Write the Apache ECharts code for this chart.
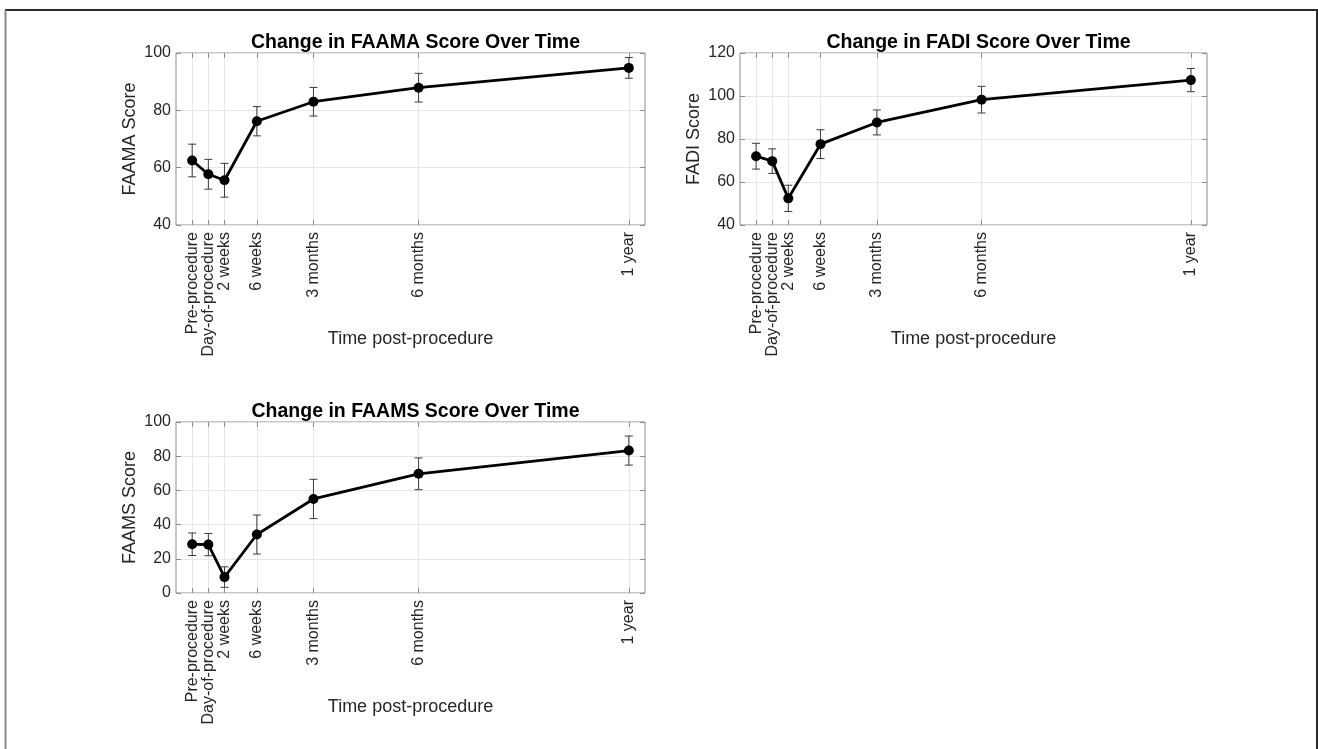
<!DOCTYPE html>
<html>
<head>
<meta charset="utf-8">
<script src="https://cdn.jsdelivr.net/npm/echarts@6/dist/echarts.min.js"></script>
<style>
  html, body { margin: 0; padding: 0; background: #fff; }
  #chart { width: 1318px; height: 749px; }
</style>
</head>
<body>
<div id="chart"></div>
<script>
// time in weeks relative to the procedure
const timeWeeks = [-2, 0, 2, 6, 13, 26, 52]
const timeLabels = ['Pre-procedure', 'Day-of-procedure', '2 weeks', '6 weeks', '3 months', '6 months', '1 year']

const faamaMean = [62.5, 57.7, 55.6, 76.2, 83.0, 87.9, 94.8]
const faamaSd = [5.7, 5.2, 5.9, 5.1, 5.0, 5.0, 3.6]
const fadiMean = [72.0, 69.7, 52.4, 77.6, 87.7, 98.3, 107.4]
const fadiSd = [6.0, 5.7, 6.1, 6.7, 5.8, 6.2, 5.4]
const faamsMean = [28.5, 28.3, 9.3, 34.2, 55.0, 69.7, 83.3]
const faamsSd = [6.6, 6.5, 6.0, 11.4, 11.5, 9.3, 8.5]

const FONT = '"Liberation Sans", Arial, Helvetica, sans-serif'
const TEXT = '#262626'
const BOX = '#8c8c8c'
const GRIDLINE = '#e6e6e6'

const panels = [
  { title: 'Change in FAAMA Score Over Time', yName: 'FAAMA Score', mean: faamaMean, sd: faamaSd,
    yMin: 40, yMax: 100, rect: { left: 176, top: 53, width: 469, height: 172 } },
  { title: 'Change in FADI Score Over Time', yName: 'FADI Score', mean: fadiMean, sd: fadiSd,
    yMin: 40, yMax: 120, rect: { left: 740, top: 53, width: 467, height: 172 } },
  { title: 'Change in FAAMS Score Over Time', yName: 'FAAMS Score', mean: faamsMean, sd: faamsSd,
    yMin: 0, yMax: 100, rect: { left: 176, top: 422, width: 469, height: 171 } },
]

const labelOf = (v) => {
  const i = timeWeeks.indexOf(v)
  return i >= 0 ? timeLabels[i] : ''
}

const grid = [], xAxis = [], yAxis = [], series = [], title = []

panels.forEach((p, k) => {
  grid.push({ ...p.rect, show: true, borderColor: BOX, borderWidth: 1, backgroundColor: '#fff' })
  title.push({
    text: p.title,
    left: p.rect.left + p.rect.width / 2, top: p.rect.top - 25, textAlign: 'center',
    textStyle: { fontFamily: FONT, fontSize: 19.5, fontWeight: 'bold', color: '#000' },
  })
  // bottom x axis with labels
  xAxis.push({
    gridIndex: k, type: 'value', min: -4, max: 54, position: 'bottom',
    name: 'Time post-procedure', nameLocation: 'middle', nameGap: 105, nameMoveOverlap: false,
    nameTextStyle: { fontFamily: FONT, fontSize: 18, color: TEXT },
    axisLine: { show: false, onZero: false },
    axisTick: { show: true, inside: true, length: 5, customValues: timeWeeks, lineStyle: { color: BOX } },
    axisLabel: { customValues: timeWeeks, rotate: 90, margin: 7, formatter: labelOf,
      fontFamily: FONT, fontSize: 16, color: TEXT },
    splitLine: { show: true, customValues: timeWeeks, lineStyle: { color: GRIDLINE, width: 1 } },
  })
  // top x axis: ticks only
  xAxis.push({
    gridIndex: k, type: 'value', min: -4, max: 54, position: 'top',
    axisLine: { show: false, onZero: false }, axisLabel: { show: false }, splitLine: { show: false },
    axisTick: { show: true, inside: true, length: 5, customValues: timeWeeks, lineStyle: { color: BOX } },
  })
  yAxis.push({
    gridIndex: k, type: 'value', min: p.yMin, max: p.yMax, interval: 20, position: 'left',
    name: p.yName, nameLocation: 'middle', nameGap: 37, nameMoveOverlap: false,
    nameTextStyle: { fontFamily: FONT, fontSize: 18, color: TEXT },
    axisLine: { show: false, onZero: false },
    axisTick: { show: true, inside: true, length: 5, lineStyle: { color: BOX } },
    axisLabel: { fontFamily: FONT, fontSize: 16, color: TEXT, margin: 5 },
    splitLine: { show: true, lineStyle: { color: GRIDLINE, width: 1 } },
  })
  yAxis.push({
    gridIndex: k, type: 'value', min: p.yMin, max: p.yMax, interval: 20, position: 'right',
    axisLine: { show: false, onZero: false }, axisLabel: { show: false }, splitLine: { show: false },
    axisTick: { show: true, inside: true, length: 5, lineStyle: { color: BOX } },
  })

  const xi = k * 2, yi = k * 2
  series.push({
    type: 'custom', xAxisIndex: xi, yAxisIndex: yi, z: 3, silent: true,
    data: timeWeeks.map((t, i) => [t, p.mean[i] - p.sd[i], p.mean[i] + p.sd[i]]),
    renderItem: (params, api) => {
      const lo = api.coord([api.value(0), api.value(1)])
      const hi = api.coord([api.value(0), api.value(2)])
      const w = 4
      const style = { stroke: '#3a3a3a', lineWidth: 1 }
      return {
        type: 'group',
        children: [
          { type: 'line', shape: { x1: lo[0], y1: lo[1], x2: hi[0], y2: hi[1] }, style },
          { type: 'line', shape: { x1: lo[0] - w, y1: lo[1], x2: lo[0] + w, y2: lo[1] }, style },
          { type: 'line', shape: { x1: hi[0] - w, y1: hi[1], x2: hi[0] + w, y2: hi[1] }, style },
        ],
      }
    },
  })
  series.push({
    type: 'line', xAxisIndex: xi, yAxisIndex: yi, z: 4, silent: true,
    data: timeWeeks.map((t, i) => [t, p.mean[i]]),
    symbol: 'circle', symbolSize: 10, showSymbol: true,
    lineStyle: { color: '#000', width: 2.8 },
    itemStyle: { color: '#000' },
  })
})

const chart = echarts.init(document.getElementById('chart'), null, { renderer: 'canvas' })
chart.setOption({
  backgroundColor: '#fff',
  animation: false,
  title, grid, xAxis, yAxis, series,
  graphic: [
    { type: 'line', shape: { x1: 5, y1: 10, x2: 1318, y2: 10 }, style: { stroke: '#2b2b2b', lineWidth: 2 } },
    { type: 'line', shape: { x1: 5.5, y1: 10, x2: 5.5, y2: 749 }, style: { stroke: '#8a8a8a', lineWidth: 2 } },
    { type: 'line', shape: { x1: 1317, y1: 10, x2: 1317, y2: 749 }, style: { stroke: '#2b2b2b', lineWidth: 2 } },
  ],
})
</script>
</body>
</html>
